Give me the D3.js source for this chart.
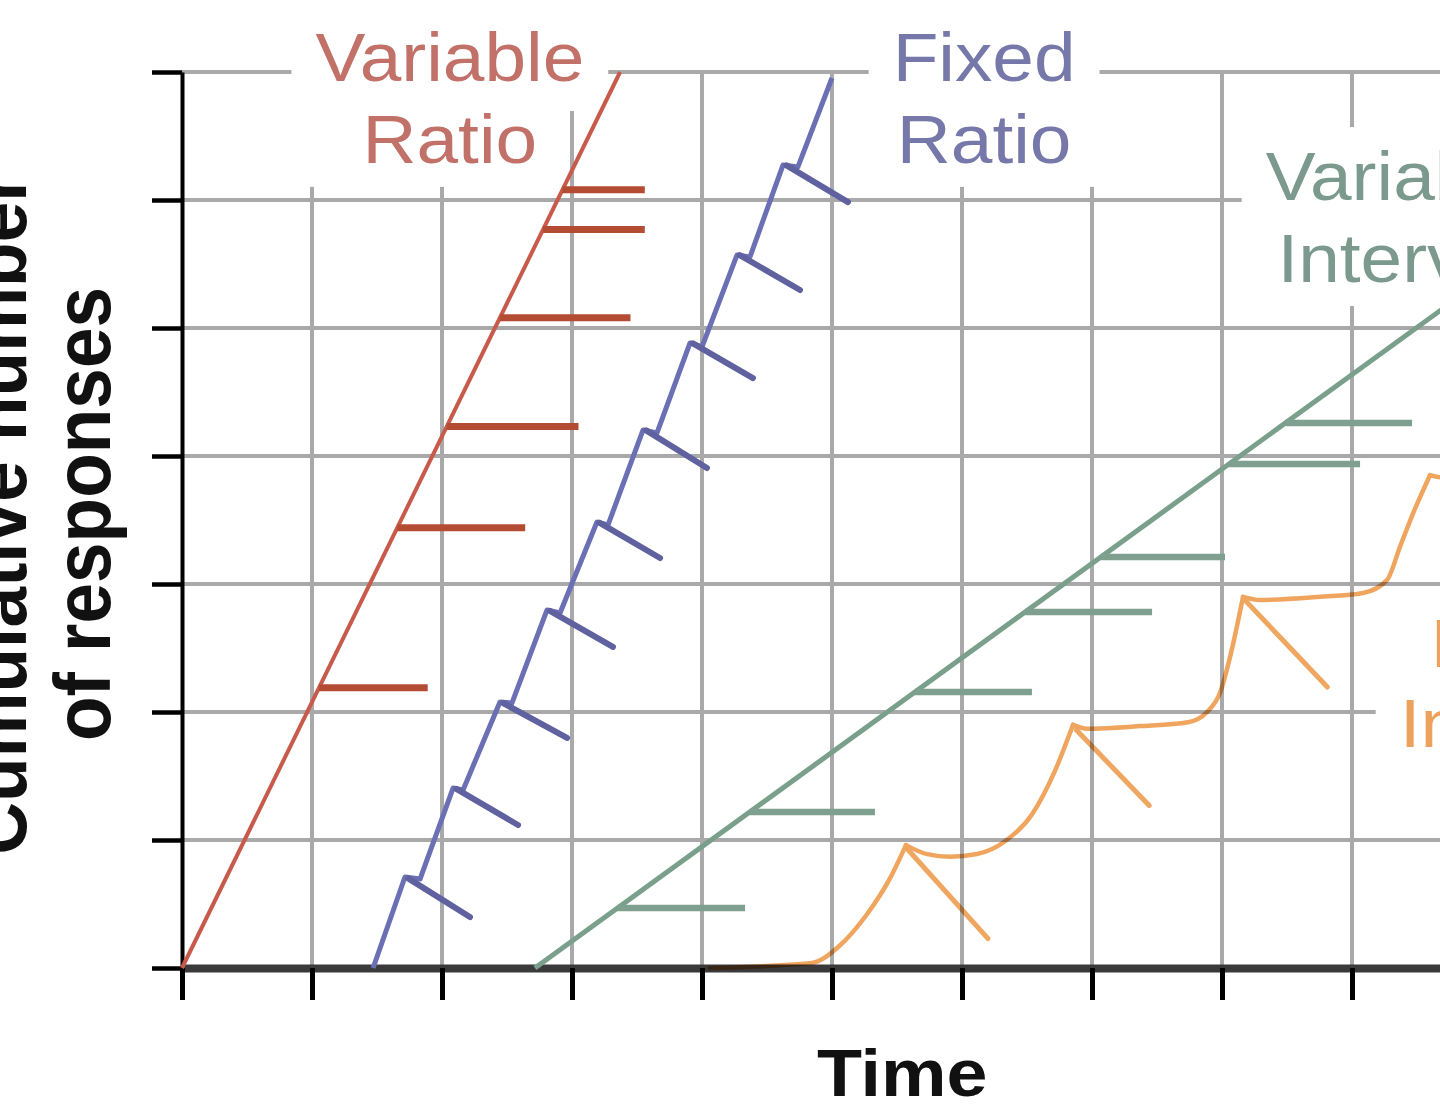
<!DOCTYPE html>
<html>
<head>
<meta charset="utf-8">
<script src="https://cdn.jsdelivr.net/npm/d3@7"></script>
<style>
  html, body { margin: 0; padding: 0; background: #fff; }
  svg { display: block; }
</style>
</head>
<body>
<svg id="chart" width="1440" height="1111"></svg>
<script>
// ---------------- DATA ----------------
const X_TICKS = [0, 1, 2, 3, 4, 5, 6, 7, 8, 9];
const Y_TICKS = [0, 1, 2, 3, 4, 5, 6, 7];

const AXIS_X_LABEL = "Time";
const AXIS_Y_LABEL = ["Cumulative number", "of responses"];

// Variable ratio: straight steep line, reinforcement marks [y, endX]
const varRatioLine = [[0, 0], [3.37, 7]];
const varRatioMarks = [[2.19, 1.89], [3.44, 2.64], [4.23, 3.05], [5.08, 3.45], [5.77, 3.56], [6.08, 3.56]];

// Fixed ratio: stepped line with post-reinforcement pauses, marks [x0,y0,x1,y1]
const fixedRatioLine = [
  [1.47, 0], [1.715, 0.711], [1.831, 0.695], [2.085, 1.406], [2.162, 1.391],
  [2.446, 2.078], [2.538, 2.070], [2.808, 2.797], [2.908, 2.773], [3.192, 3.484],
  [3.277, 3.461], [3.546, 4.203], [3.654, 4.180], [3.908, 4.883], [4.0, 4.852],
  [4.269, 5.570], [4.369, 5.555], [4.623, 6.273], [4.738, 6.258], [5.0, 6.953]
];
const fixedRatioMarks = [
  [1.74, 0.70, 2.215, 0.398], [2.11, 1.40, 2.585, 1.117], [2.47, 2.07, 2.962, 1.797],
  [2.83, 2.79, 3.315, 2.508], [3.21, 3.48, 3.677, 3.203], [3.57, 4.20, 4.038, 3.906],
  [3.93, 4.88, 4.392, 4.609], [4.29, 5.57, 4.754, 5.297], [4.65, 6.27, 5.123, 5.984]
];

// Variable interval: straight moderate line, reinforcement marks [y, endX]
const varIntervalLine = [[2.715, 0], [10, 5.373]];
const varIntervalMarks = [[0.469, 4.331], [1.219, 5.331], [2.156, 6.538], [2.781, 7.462],
                          [3.211, 8.023], [3.938, 9.062], [4.258, 9.462]];

// Fixed interval: scalloped segments, marks [x0,y0,x1,y1]
const fixedIntervalSegments = [
  [[4.062, 0], [4.846, 0.04], [5.054, 0.17], [5.269, 0.42], [5.446, 0.70], [5.569, 0.96]],
  [[5.569, 0.96], [5.731, 0.89], [5.908, 0.87], [6.115, 0.89], [6.331, 0.99], [6.538, 1.20], [6.715, 1.54], [6.854, 1.90]],
  [[6.854, 1.90], [6.962, 1.87], [7.369, 1.89], [7.738, 1.92], [7.885, 2.0], [7.985, 2.15], [8.062, 2.43], [8.162, 2.90]],
  [[8.162, 2.90], [8.292, 2.875], [8.754, 2.90], [9.085, 2.93], [9.269, 3.03], [9.369, 3.29], [9.469, 3.55], [9.6, 3.85]],
  [[9.6, 3.85], [9.715, 3.83], [10.13, 3.84]]
];
const fixedIntervalMarks = [[5.58, 0.93, 6.2, 0.23], [6.88, 1.86, 7.44, 1.27], [8.18, 2.87, 8.81, 2.195]];

const SERIES_LABELS = [
  { lines: ["Variable", "Ratio"], cx: 2.06, ys: [6.93, 6.29], color: "#c17168" },
  { lines: ["Fixed", "Ratio"], cx: 6.17, ys: [6.93, 6.29], color: "#7678aa" },
  { lines: ["Variable", "Interval"], cx: 9.37, ys: [6.0, 5.36], color: "#7c998d" },
  { lines: ["Fixed", "Interval"], cx: 10.31, ys: [2.35, 1.73], color: "#eca15c" }
];

// ---------------- CHART ----------------
const svg = d3.select("#chart");
const x = d3.scaleLinear().domain([0, 10]).range([182, 1482]);
const y = d3.scaleLinear().domain([0, 7]).range([968, 72]);

const gGrid = svg.append("g");
const gMask = svg.append("g");
const gAxes = svg.append("g");
const gData = svg.append("g");
const gLabels = svg.append("g");

// gridlines
gGrid.selectAll("line.h").data(Y_TICKS.filter(d => d > 0)).join("line")
  .attr("x1", x(0)).attr("x2", x(10)).attr("y1", d => y(d)).attr("y2", d => y(d))
  .attr("stroke", "#a9a9a9").attr("stroke-width", 4);
gGrid.selectAll("line.v").data(X_TICKS.filter(d => d > 0)).join("line")
  .attr("x1", d => x(d)).attr("x2", d => x(d)).attr("y1", y(0)).attr("y2", y(7))
  .attr("stroke", "#a9a9a9").attr("stroke-width", 4);

// axes
const yAxis = d3.axisLeft(y).tickValues(Y_TICKS).tickSize(30).tickSizeOuter(0).tickFormat("");
const gy = gAxes.append("g").attr("transform", `translate(${x(0)},0)`).call(yAxis);
gy.select(".domain").attr("stroke", "#000").attr("stroke-width", 4);
gy.selectAll(".tick line").attr("stroke", "#000").attr("stroke-width", 4.5);

const xAxis = d3.axisBottom(x).tickValues(X_TICKS).tickSize(32).tickSizeOuter(0).tickFormat("");
const gx = gAxes.append("g").attr("transform", `translate(0,${y(0)})`).call(xAxis);
gx.select(".domain").attr("stroke", "#3a3a3a").attr("stroke-width", 8);
gx.selectAll(".tick line").attr("stroke", "#000").attr("stroke-width", 5);

// Axis titles
gAxes.append("text")
  .attr("transform", `translate(${x(5.54)},1096) scale(1.1,1)`)
  .attr("text-anchor", "middle")
  .attr("font-family", "'Liberation Sans', Arial, sans-serif")
  .attr("font-weight", "bold").attr("font-size", 67).attr("fill", "#111")
  .text(AXIS_X_LABEL);

const yLabBase = [26, 110];
AXIS_Y_LABEL.forEach((t, i) => {
  gAxes.append("text")
    .attr("transform", `translate(${yLabBase[i]},${(y(0) + y(7)) / 2 - 6}) scale(1.1,1) rotate(-90)`)
    .attr("text-anchor", "middle")
    .attr("font-family", "'Liberation Sans', Arial, sans-serif")
    .attr("font-weight", "bold").attr("font-size", 73).attr("fill", "#111")
    .text(t);
});

// data
const line = d3.line().x(d => x(d[0])).y(d => y(d[1]));
const smooth = d3.line().x(d => x(d[0])).y(d => y(d[1])).curve(d3.curveMonotoneX);

// variable ratio
gData.append("path").attr("d", line(varRatioLine))
  .attr("fill", "none").attr("stroke", "#c75a4b").attr("stroke-width", 4);
const vrSlope = (varRatioLine[1][0] - varRatioLine[0][0]) / (varRatioLine[1][1] - varRatioLine[0][1]);
gData.selectAll("line.vr").data(varRatioMarks).join("line")
  .attr("x1", d => x(varRatioLine[0][0] + d[0] * vrSlope)).attr("x2", d => x(d[1]))
  .attr("y1", d => y(d[0])).attr("y2", d => y(d[0]))
  .attr("stroke", "#b44c33").attr("stroke-width", 7);

// fixed ratio
gData.append("path").attr("d", line(fixedRatioLine))
  .attr("fill", "none").attr("stroke", "#6b6fb3").attr("stroke-width", 5)
  .attr("stroke-linejoin", "round");
gData.selectAll("line.fr").data(fixedRatioMarks).join("line")
  .attr("x1", d => x(d[0])).attr("y1", d => y(d[1]))
  .attr("x2", d => x(d[2])).attr("y2", d => y(d[3]))
  .attr("stroke", "#5f629f").attr("stroke-width", 6).attr("stroke-linecap", "round");

// variable interval
gData.append("path").attr("d", line(varIntervalLine))
  .attr("fill", "none").attr("stroke", "#7a9f8b").attr("stroke-width", 5);
const viSlope = (varIntervalLine[1][0] - varIntervalLine[0][0]) / (varIntervalLine[1][1] - varIntervalLine[0][1]);
gData.selectAll("line.vi").data(varIntervalMarks).join("line")
  .attr("x1", d => x(varIntervalLine[0][0] + d[0] * viSlope)).attr("x2", d => x(d[1]))
  .attr("y1", d => y(d[0])).attr("y2", d => y(d[0]))
  .attr("stroke", "#7f9f90").attr("stroke-width", 6.5);

// fixed interval
const gFI = gData.append("g").style("mix-blend-mode", "multiply");
gFI.selectAll("path").data(fixedIntervalSegments).join("path")
  .attr("d", d => smooth(d))
  .attr("fill", "none").attr("stroke", "#f0a55f").attr("stroke-width", 4.5)
  .attr("stroke-linecap", "round");
gFI.selectAll("line").data(fixedIntervalMarks).join("line")
  .attr("x1", d => x(d[0])).attr("y1", d => y(d[1]))
  .attr("x2", d => x(d[2])).attr("y2", d => y(d[3]))
  .attr("stroke", "#eea660").attr("stroke-width", 5).attr("stroke-linecap", "round");

// series labels (with white knock-out boxes that break the grid)
const FS = 68, PAD = 24, CAP = 0.72 * FS;
SERIES_LABELS.forEach(lab => {
  const boxes = lab.lines.map((t, i) => {
    const by = y(lab.ys[i]);
    const txt = gLabels.append("text")
      .attr("transform", `translate(${x(lab.cx)},${by}) scale(1.1,1)`)
      .attr("text-anchor", "middle")
      .attr("font-family", "'Liberation Sans', Arial, sans-serif")
      .attr("font-size", FS).attr("fill", lab.color)
      .text(t);
    const r = txt.node().getBoundingClientRect();
    return { left: r.left, right: r.right, by };
  });
  const minLeft = d3.min(boxes, b => b.left);
  boxes.forEach((b, i) => {
    const left = i === 0 ? b.left : minLeft;
    gMask.append("rect")
      .attr("x", left - PAD).attr("width", b.right - left + 2 * PAD)
      .attr("y", b.by - CAP - PAD).attr("height", CAP + 2 * PAD + (i === 0 ? 6 : 0))
      .attr("fill", "#fff");
  });
});
</script>
</body>
</html>
